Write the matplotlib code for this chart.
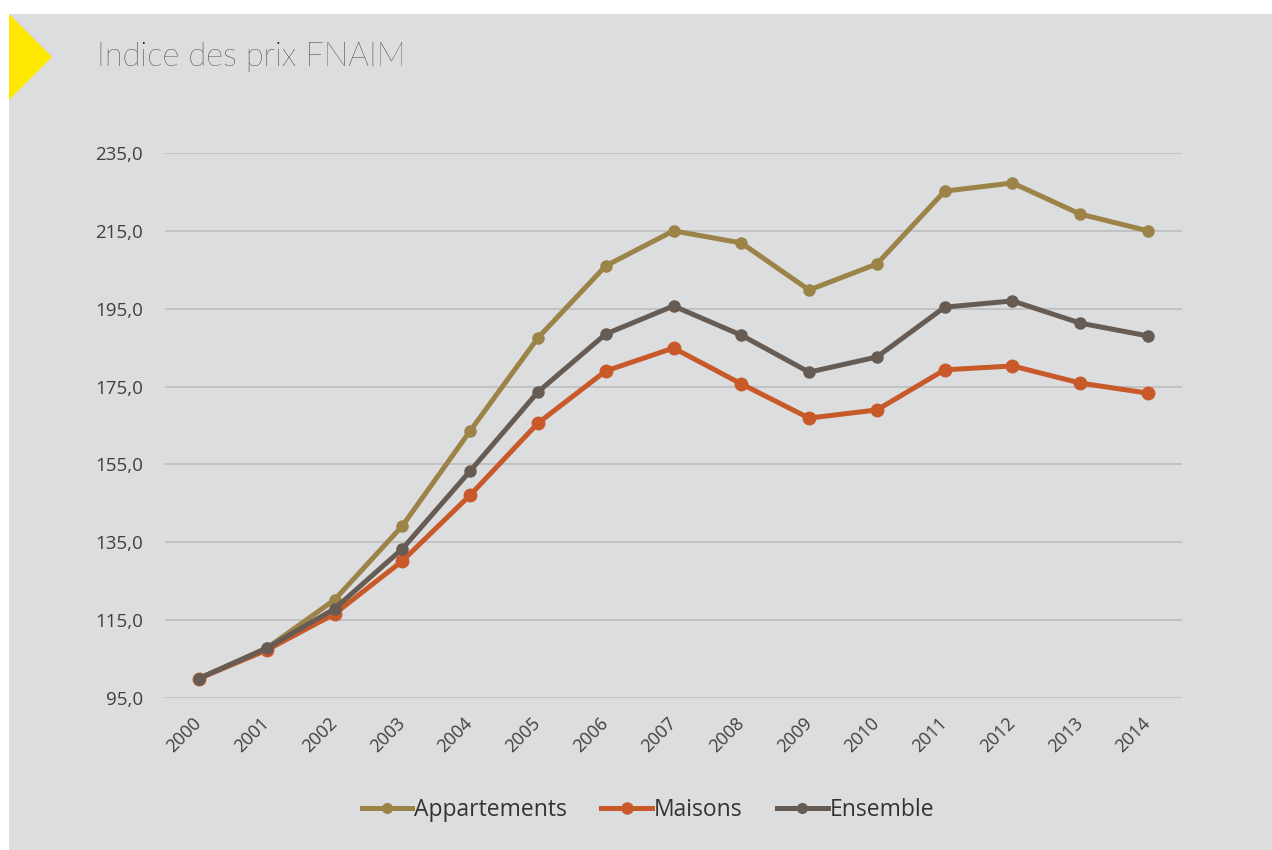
import matplotlib.pyplot as plt
from matplotlib.patches import Rectangle, Polygon
from matplotlib.lines import Line2D

years = [str(y) for y in range(2000, 2015)]
appartements = [100.0, 107.8, 120.2, 139.2, 163.6, 187.5, 206.0, 215.0, 211.9, 199.8, 206.5, 225.2, 227.3, 219.3, 215.0]
maisons = [100.0, 107.3, 116.6, 130.2, 147.1, 165.6, 179.0, 184.9, 175.7, 166.9, 169.0, 179.3, 180.3, 175.9, 173.3]
ensemble = [100.0, 107.8, 117.9, 133.3, 153.3, 173.6, 188.5, 195.7, 188.2, 178.7, 182.6, 195.4, 197.0, 191.3, 188.0]
yticks = [95, 115, 135, 155, 175, 195, 215, 235]

bg = '#dcdddf'
W, H = 1272, 850
fig = plt.figure(figsize=(12.72, 8.5), dpi=100)
fig.patch.set_facecolor('white')

# fond gris + triangle jaune
fig.patches.append(Rectangle((9 / W, 0), 1 - 9 / W, 1 - 14 / H, transform=fig.transFigure,
                             facecolor=bg, edgecolor='none', zorder=-2))
fig.patches.append(Polygon([(9 / W, 1 - 14 / H), (52 / W, 1 - 57 / H), (9 / W, 1 - 100 / H)],
                           closed=True, transform=fig.transFigure,
                           facecolor='#ffe800', edgecolor='none', zorder=-1))
fig.text(97 / W, 1 - 57 / H, 'Indice des prix FNAIM', fontsize=23.5, family='Lato',
         fontweight='light', color='#000000', va='center', ha='left')

ax = fig.add_axes([165 / W, 1 - 698 / H, (1182 - 165) / W, (698 - 153) / H])
ax.set_facecolor(bg)

x = list(range(len(years)))
series = [
    ('Appartements', appartements, '#9c8348', 8),
    ('Maisons', maisons, '#c85a2a', 9),
    ('Ensemble', ensemble, '#675c53', 8),
]
for name, vals, col, ms in series:
    ax.plot(x, vals, color=col, lw=3.6, marker='o', ms=ms, label=name, zorder=3)

ax.set_xlim(-0.5, len(years) - 0.5)
ax.set_ylim(95, 235)
ax.set_yticks(yticks)
ax.set_yticklabels([f'{v},0' for v in yticks], fontsize=13.5, family='Open Sans', color='#404040')
ax.set_xticks(x)
ax.set_xticklabels(years, rotation=45, ha='right', va='center', rotation_mode='anchor',
                   fontsize=13, family='Open Sans', color='#404040')
ax.tick_params(axis='y', length=0, pad=16)
ax.tick_params(axis='x', length=0, pad=16)
ax.grid(axis='y', color='#bdbdbd', lw=1.2)
ax.set_axisbelow(True)
for s in ax.spines.values():
    s.set_visible(False)

handles = [Line2D([], [], color=c, lw=3.6, marker='o', ms=m - 1) for _, _, c, m in series]
fig.legend(handles, [s[0] for s in series], loc='center', bbox_to_anchor=(648 / W, 1 - 810 / H),
           ncol=3, frameon=False, prop={'family': 'Open Sans', 'size': 16.5},
           handlelength=2.2, handletextpad=0.1, columnspacing=1.5, labelcolor='#333333')

fig.savefig('out.png', dpi=100, facecolor=fig.get_facecolor())
